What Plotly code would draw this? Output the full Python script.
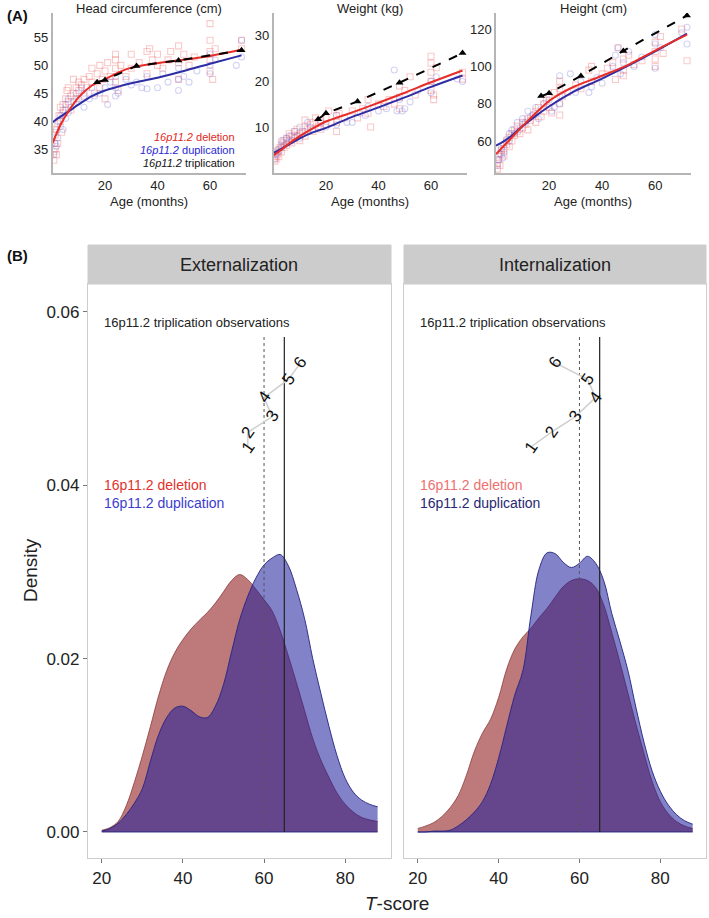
import plotly.graph_objects as go

W, H = 709, 918
def fx(px): return px / W
def fy(py): return 1 - py / H

# ---------------- Panel A data ----------------
trip_age = [17, 20, 32, 48, 72]
trip_hc = [47.0, 47.4, 49.9, 50.9, 52.7]
trip_wt = [11.7, 13.0, 15.6, 19.7, 26.2]
trip_ht = [84.1, 85.6, 94.9, 108.3, 127.2]

fit_age = [0, 3, 6, 10, 15, 20, 25, 30, 40, 50, 60, 72]
del_hc_fit = [36.0, 39.3, 41.7, 44.3, 46.4, 47.5, 48.7, 49.6, 50.4, 51.0, 51.7, 52.8]
dup_hc_fit = [39.8, 40.8, 41.7, 43.0, 44.5, 45.5, 46.2, 46.8, 47.8, 49.0, 50.3, 51.8]
del_wt_fit = [3.8, 5.0, 6.4, 8.0, 9.7, 11.2, 12.2, 13.2, 15.3, 17.5, 19.8, 22.4]
dup_wt_fit = [4.3, 5.2, 6.2, 7.5, 8.8, 9.8, 11.0, 12.2, 14.3, 16.5, 18.8, 21.3]
del_ht_fit = [53.0, 57.5, 62.0, 68.0, 75.0, 81.5, 86.0, 89.5, 95.0, 101.0, 108.5, 117.0]
dup_ht_fit = [57.5, 60.0, 63.0, 68.0, 73.5, 78.5, 83.0, 87.0, 93.5, 100.5, 108.0, 117.5]

del_hc_age = [0.5,0.5,0.8,1,1,1.5,1.5,2,2,2.5,3,3,3.5,4,4,5,5,5.5,6,6,7,7,8,8,9,9,10,10,11,12,12,13,14,15,15,16,17,18,18,19,20,20,21,22,24,24,24,24,25,26,28,30,30,33,36,36,37,38,40,40,42,44,45,48,48,48,50,52,54,60,60,60,60,60,61,62,72,72]
del_hc_val = [33,34.5,36,35,37.5,38.5,34,36,39.5,41,40,42.5,38,41.5,43,42,44,45.5,43.5,46,44.5,42,45,47.5,44,46,45.5,47,46.5,47.5,44.5,46,48,47,49.5,45,48.5,50,46,47.5,49,44,50.5,48,51,52,47,49.5,45.5,50,48,52,49.5,50.5,52.5,48.5,53,51,50,52,49.5,51,52.5,53.5,50.5,47.5,52,50,51.5,57.5,54.5,52.5,51,49,47.5,53,53,54.5]
dup_hc_age = [0.5,1,1,1.5,2,2,3,3,4,4,5,5,6,6,7,8,9,10,11,12,12,14,15,16,18,20,21,22,24,24,24,25,28,30,32,34,36,36,40,42,44,48,48,48,50,52,55,60,60,60,62,70,72,72]
dup_hc_val = [34,36,38,35.5,40,37,41,39,42,38.5,43,40.5,44,41.5,42.5,43.5,45,44,46,42.5,45,44,46,44.5,45,46,43,47,44.5,46,48,45,47.5,46.5,47,46,45.8,48,46,48.5,47,45.5,47.5,49.5,48,47,49,48.5,50,52,51,50,51.5,54.5]

del_wt_age = [0.5,0.5,1,1,1.5,2,2,2.5,3,3,3.5,4,4,5,5,6,6,7,7,8,8,9,9,10,10,11,12,12,12,13,14,15,15,16,17,18,18,20,20,21,22,24,24,24,25,27,30,32,34,36,36,37,40,42,44,46,48,48,48,50,52,54,60,60,60,60,60,61,61,62,72,72]
del_wt_val = [2.5,3.5,3,4.5,4,5,3.5,5.5,6,4.5,6.5,5.5,7,6,7.5,7,8.5,6.5,8,7.5,9,8,9.5,8.5,7,9,10,8,11.5,9.5,10.5,9,11,12,10,11.5,9.5,12,10.5,13.5,11,12.5,11,9,13,12,13.5,12,14,16,13,10,15,14.5,16,15,19,16.5,14,18,21,17,25.5,24,22,20,18,17,16,23,22,20.5]
dup_wt_age = [0.5,1,1.5,2,3,3,4,5,5,6,7,8,9,10,10,12,13,14,15,18,20,24,24,28,30,33,35,36,40,43,46,47,48,49,50,52,55,60,60,62,70,72]
dup_wt_val = [3,4,5,4.5,5.5,7,6,7.5,6.5,8,7,9,8,10,7.5,9,11,10,9.5,11,10,10.5,12.5,11,11,13,12.5,14.5,13.5,14,22.5,13.5,16,13.5,14,15.5,18,17.5,20,21,20.5,20]

del_ht_age = [0.5,0.5,1,1,1.5,2,2,3,3,4,4,5,5,6,6,7,7,8,8,9,10,10,11,12,12,13,14,15,15,16,17,18,18,19,20,20,21,22,24,24,24,24,25,27,30,32,35,36,36,40,42,44,45,46,48,48,48,50,52,55,60,60,60,60,62,63,70,72]
del_ht_val = [45,48,50,52,47,53,55,56,52,58,60,57,62,60,64,63,66,65,68,64,67,70,69,72,66,71,74,70,76,78,73,80,76,82,78,84,75,86,80,88,74,92,84,86,90,88,98,92,100,96,99,102,93,110,104,98,95,106,101,103,113,108,104,100,116,107,120,103]
dup_ht_age = [0.5,1,1.5,2,2.5,3,3,4,5,5,6,7,8,9,10,11,12,13,14,15,16,18,20,21,22,24,24,24,28,30,32,35,36,38,40,44,45,46,47,48,50,52,55,60,60,60,62,70,72,72]
dup_ht_val = [47,50,53,56,51,58,54,61,64,60,66,64,70,66,72,70,76,73,74,78,72,80,82,76,78,95,84,80,96,86,92,86,89,94,91,100,106,110,96,102,108,100,105,99,112,117,110,118,121,112]

# ---------------- Panel B data ----------------
t_score = [20,22,24,26,28,30,32,34,36,38,40,42,44,46,48,50,52,54,56,58,60,62,64,66,68,70,72,74,76,78,80,82,84,86,88]
ext_del = [0.0002,0.0005,0.0012,0.003,0.0057,0.0088,0.0122,0.0157,0.0186,0.0207,0.0222,0.0234,0.0244,0.0253,0.0264,0.0277,0.0290,0.0297,0.0291,0.0280,0.0268,0.0255,0.0232,0.0203,0.0172,0.0140,0.0108,0.0083,0.0063,0.0045,0.0032,0.0023,0.0017,0.0014,0.0012]
ext_dup = [0.0001,0.0004,0.0010,0.0020,0.0033,0.0050,0.0082,0.0112,0.0132,0.0143,0.0145,0.0140,0.0133,0.0132,0.0145,0.0170,0.0208,0.0245,0.0272,0.0293,0.0308,0.0316,0.0320,0.0307,0.0280,0.0246,0.0200,0.0160,0.0122,0.0088,0.0062,0.0046,0.0037,0.0032,0.0029]
int_del = [0.0004,0.0007,0.0011,0.0018,0.0028,0.0042,0.0065,0.0093,0.0114,0.0130,0.0155,0.0188,0.0211,0.0225,0.0235,0.0247,0.0258,0.0271,0.0283,0.0290,0.0292,0.0290,0.0282,0.0262,0.0230,0.0196,0.0160,0.0124,0.0090,0.0058,0.0035,0.0021,0.0012,0.0007,0.0004]
int_dup = [0.0000,0.0000,0.0001,0.0001,0.0002,0.0007,0.0014,0.0023,0.0035,0.0055,0.0085,0.0122,0.0158,0.0186,0.0250,0.0303,0.0322,0.0321,0.0311,0.0305,0.0310,0.0318,0.0310,0.0290,0.0252,0.0220,0.0186,0.0143,0.0103,0.0070,0.0047,0.0031,0.0020,0.0013,0.0009]

obs_labels = ["1", "2", "3", "4", "5", "6"]
obs_y = [0.0444, 0.0461, 0.0479, 0.0501, 0.0522, 0.0541]
ext_obs_x = [56, 56, 62, 60, 66, 69]
int_obs_x = [48, 53, 59, 64, 62, 54]
cut_borderline = 60
cut_clinical = 65

RED = "rgb(230,45,40)"
BLUE = "rgb(45,45,165)"
fig = go.Figure()

# ---- Panel A ----
panelA = [
    ("x", "y", del_hc_age, del_hc_val, dup_hc_age, dup_hc_val, del_hc_fit, dup_hc_fit, trip_hc),
    ("x2", "y2", del_wt_age, del_wt_val, dup_wt_age, dup_wt_val, del_wt_fit, dup_wt_fit, trip_wt),
    ("x3", "y3", del_ht_age, del_ht_val, dup_ht_age, dup_ht_val, del_ht_fit, dup_ht_fit, trip_ht),
]
for xa, ya, da, dv, ua, uv, dfit, ufit, trip in panelA:
    fig.add_trace(go.Scatter(x=da, y=dv, xaxis=xa, yaxis=ya, mode="markers",
        marker=dict(symbol="square-open", size=6, color="rgba(240,90,90,0.32)", line=dict(width=1.1))))
    fig.add_trace(go.Scatter(x=ua, y=uv, xaxis=xa, yaxis=ya, mode="markers",
        marker=dict(symbol="circle-open", size=6, color="rgba(100,100,220,0.28)", line=dict(width=1.1))))
    fig.add_trace(go.Scatter(x=fit_age, y=ufit, xaxis=xa, yaxis=ya, mode="lines",
        line=dict(color=BLUE, width=2, shape="spline")))
    fig.add_trace(go.Scatter(x=fit_age, y=dfit, xaxis=xa, yaxis=ya, mode="lines",
        line=dict(color=RED, width=2, shape="spline")))
    fig.add_trace(go.Scatter(x=trip_age, y=trip, xaxis=xa, yaxis=ya, mode="lines+markers",
        line=dict(color="black", width=2, dash="dash"),
        marker=dict(symbol="triangle-up", size=7, color="black")))

# ---- Panel B ----
for xa, ya, d_del, d_dup, obs_x in [("x4", "y4", ext_del, ext_dup, ext_obs_x),
                                     ("x5", "y5", int_del, int_dup, int_obs_x)]:
    fig.add_trace(go.Scatter(x=t_score, y=d_del, xaxis=xa, yaxis=ya, mode="lines", fill="tozeroy",
        fillcolor="rgba(137,12,12,0.55)", line=dict(color="rgba(120,30,30,0.8)", width=0.8, shape="spline")))
    fig.add_trace(go.Scatter(x=t_score, y=d_dup, xaxis=xa, yaxis=ya, mode="lines", fill="tozeroy",
        fillcolor="rgba(28,28,155,0.55)", line=dict(color="rgba(35,35,130,0.9)", width=1, shape="spline")))
    fig.add_trace(go.Scatter(x=[t_score[0], t_score[-1]], y=[0, 0], xaxis=xa, yaxis=ya, mode="lines",
        line=dict(color="rgba(35,35,130,0.9)", width=1)))
    fig.add_trace(go.Scatter(x=[cut_borderline, cut_borderline], y=[0, 0.0571], xaxis=xa, yaxis=ya,
        mode="lines", line=dict(color="#555", width=1, dash="dot")))
    fig.add_trace(go.Scatter(x=[cut_clinical, cut_clinical], y=[0, 0.0571], xaxis=xa, yaxis=ya,
        mode="lines", line=dict(color="#222", width=1.2)))
    fig.add_trace(go.Scatter(x=obs_x, y=obs_y, xaxis=xa, yaxis=ya, mode="lines",
        line=dict(color="#cfcfcf", width=1.5)))
    for lab, ox, oy in zip(obs_labels, obs_x, obs_y):
        fig.add_annotation(x=ox, y=oy, xref=xa, yref=ya, text=lab, showarrow=False,
                           xanchor="center", yanchor="middle",
                           textangle=-55, font=dict(size=17, color="#111"))
    fig.add_annotation(x=20, y=0.0588, xref=xa, yref=ya, text="16p11.2 triplication observations",
                       showarrow=False, xanchor="left", yanchor="middle", font=dict(size=13, color="#222"))

for xa, ya, cdel, cdup in [("x4", "y4", "rgb(225,50,45)", "rgb(60,60,205)"),
                           ("x5", "y5", "rgb(238,112,112)", "rgb(40,40,115)")]:
    fig.add_annotation(x=20, y=0.0400, xref=xa, yref=ya, text="16p11.2 deletion", showarrow=False,
                       xanchor="left", yanchor="middle", font=dict(size=14, color=cdel))
    fig.add_annotation(x=20, y=0.0379, xref=xa, yref=ya, text="16p11.2 duplication", showarrow=False,
                       xanchor="left", yanchor="middle", font=dict(size=14, color=cdup))

# ---- axes ----
axA = dict(showline=True, linecolor="#b5b5b5", linewidth=1.5, ticks="", showgrid=False, zeroline=False,
           tickfont=dict(size=13, color="#222"))
fig.update_layout(
    xaxis=dict(domain=[fx(52.5), fx(246)], range=[0, 73.7], tickvals=[20, 40, 60], anchor="y", **axA),
    yaxis=dict(domain=[fy(173), fy(13)], range=[30.7, 59.4], tickvals=[35, 40, 45, 50, 55], anchor="x", **axA),
    xaxis2=dict(domain=[fx(273.5), fx(467)], range=[0, 73.7], tickvals=[20, 40, 60], anchor="y2", **axA),
    yaxis2=dict(domain=[fy(173), fy(13)], range=[-0.1, 35], tickvals=[10, 20, 30], anchor="x2", **axA),
    xaxis3=dict(domain=[fx(496), fx(691)], range=[0, 73.5], tickvals=[20, 40, 60], anchor="y3", **axA),
    yaxis3=dict(domain=[fy(173), fy(13)], range=[42.9, 128.6], tickvals=[60, 80, 100, 120], anchor="x3", **axA),
)
axB = dict(showline=True, linecolor="#cdcdcd", linewidth=1.2, mirror=True, showgrid=False, zeroline=False,
           ticklen=4, tickcolor="#777", tickfont=dict(size=17, color="#222",
           family="Liberation Sans Narrow, Liberation Sans, Arial"))
fig.update_layout(
    xaxis4=dict(domain=[fx(88), fx(391)], range=[16.6, 91.3], tickvals=[20, 40, 60, 80], anchor="y4",
                ticks="outside", **axB),
    yaxis4=dict(domain=[fy(858), fy(284)], range=[-0.003, 0.0632], tickvals=[0, 0.02, 0.04, 0.06],
                ticktext=["0.00", "0.02", "0.04", "0.06"], anchor="x4", ticks="outside", **axB),
    xaxis5=dict(domain=[fx(404), fx(706)], range=[16.6, 91.3], tickvals=[20, 40, 60, 80], anchor="y5",
                ticks="outside", **axB),
    yaxis5=dict(domain=[fy(858), fy(284)], range=[-0.003, 0.0632], tickvals=[0, 0.02, 0.04, 0.06],
                showticklabels=False, anchor="x5", ticks="", **axB),
)

# strips
for x0, x1, lab in [(88, 391, "Externalization"), (404, 706, "Internalization")]:
    fig.add_shape(type="rect", xref="paper", yref="paper", x0=fx(x0), x1=fx(x1), y0=fy(284), y1=fy(245),
                  fillcolor="#cccccc", line=dict(color="#cccccc", width=1))
    fig.add_annotation(xref="paper", yref="paper", x=fx((x0 + x1) / 2), y=fy(265), text=lab, showarrow=False,
                       xanchor="center", yanchor="middle", font=dict(size=18, color="#222"))

def pa(x, y, text, size, xanchor="center", color="#222", **kw):
    fig.add_annotation(xref="paper", yref="paper", x=fx(x), y=fy(y), text=text, showarrow=False,
                       xanchor=xanchor, yanchor="middle", font=dict(size=size, color=color), **kw)

pa(149, 8, "Head circumference (cm)", 13)
pa(370, 8, "Weight (kg)", 13)
pa(593, 8, "Height (cm)", 13)
for cx in (149, 370, 593):
    pa(cx, 201, "Age (months)", 13)
pa(237, 137, "<i>16p11.2</i> deletion", 11, color="rgb(225,40,35)", xanchor="right")
pa(237, 150, "<i>16p11.2</i> duplication", 11, color="rgb(40,40,210)", xanchor="right")
pa(237, 163, "<i>16p11.2</i> triplication", 11, color="#111", xanchor="right")
pa(5, 15, "<b>(A)</b>", 15, xanchor="left", color="#111")
pa(5, 255, "<b>(B)</b>", 15, xanchor="left", color="#111")
pa(397, 903, "<i>T</i>-score", 19)
pa(30, 570, "Density", 19, textangle=-90)

fig.update_layout(width=W, height=H, margin=dict(l=0, r=0, t=0, b=0), showlegend=False,
                  paper_bgcolor="white", plot_bgcolor="white", hovermode=False,
                  font=dict(family="Liberation Sans, Arial", color="#222"))
fig.write_html("out.html", config={"displayModeBar": False},
               post_script="document.body.style.margin='0px';document.body.style.padding='0px';")
